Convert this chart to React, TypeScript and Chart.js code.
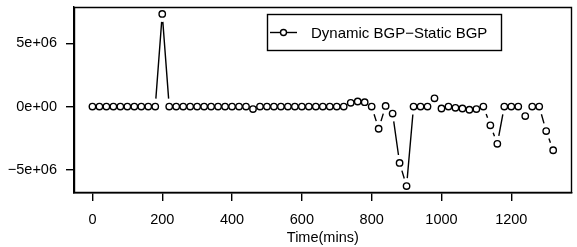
import React, { useEffect, useRef } from "react";
import { Chart, registerables } from "chart.js";

Chart.register(...registerables);

// ---- data ----
const times = [
  0, 20, 40, 60, 80, 100, 120, 140, 160, 180,
  200, 220, 240, 260, 280, 300, 320, 340, 360, 380,
  400, 420, 440, 460, 480, 500, 520, 540, 560, 580,
  600, 620, 640, 660, 680, 700, 720, 740, 760, 780,
  800, 820, 840, 860, 880, 900, 920, 940, 960, 980,
  1000, 1020, 1040, 1060, 1080, 1100, 1120, 1140, 1160, 1180,
  1200, 1220, 1240, 1260, 1280, 1300, 1320,
];
const diffValues = [
  0, 0, 0, 0, 0, 0, 0, 0, 0, 0,
  7320000, 0, 0, 0, 0, 0, 0, 0, 0, 0,
  0, 0, 0, -200000, 0, 0, 0, 0, 0, 0,
  0, 0, 0, 0, 0, 0, 0, 300000, 400000, 350000,
  0, -1750000, 50000, -550000, -4450000, -6280000, 0, 0, 0, 650000,
  -150000, 0, -100000, -150000, -250000, -200000, 0, -1480000, -2940000, 0,
  0, 0, -750000, 0, 0, -1930000, -3450000,
];
const xTickValues = [0, 200, 400, 600, 800, 1000, 1200];
const yTickValues = [-5000000, 0, 5000000];
const yTickLabels = ["\u22125e+06", "0e+00", "5e+06"];
const seriesLabel = "Dynamic BGP\u2212Static BGP";
const xTitle = "Time(mins)";

const FONT = "'Liberation Sans', Arial, Helvetica, sans-serif";
const FS = 14.5;
const LEG_FS = 15;
const LW = 1.4;

const gapLines = {
  id: "gapLines",
  afterDatasetsDraw(chart: any) {
    const pts = chart.getDatasetMeta(0).data;
    const ctx = chart.ctx;
    const gap = 8;
    ctx.save();
    ctx.strokeStyle = "#000";
    ctx.lineWidth = LW;
    ctx.beginPath();
    for (let i = 0; i < pts.length - 1; i++) {
      const a = pts[i];
      const b = pts[i + 1];
      const dx = b.x - a.x;
      const dy = b.y - a.y;
      const len = Math.hypot(dx, dy);
      if (len > 2 * gap) {
        const ux = dx / len;
        const uy = dy / len;
        ctx.moveTo(a.x + ux * gap, a.y + uy * gap);
        ctx.lineTo(b.x - ux * gap, b.y - uy * gap);
      }
    }
    ctx.stroke();
    ctx.restore();
  },
};

const boxAndLegend = {
  id: "boxAndLegend",
  afterDraw(chart: any) {
    const ctx = chart.ctx;
    const xs = chart.scales.x;
    const ys = chart.scales.y;
    const l = Math.round(xs.left) + 0.5;
    const r = Math.round(xs.right) - 0.5;
    const t = Math.round(ys.top) + 0.5;
    const b = Math.round(ys.bottom) - 0.5;
    ctx.save();
    ctx.strokeStyle = "#000";
    ctx.lineWidth = LW;
    ctx.beginPath();
    ctx.moveTo(l, t);
    ctx.lineTo(r, t);
    ctx.lineTo(r, b);
    ctx.lineTo(l, b);
    ctx.closePath();
    ctx.stroke();
    // legend
    const lx = 267.5, ly = 14.5, lw = 234, lh = 36;
    ctx.fillStyle = "#fff";
    ctx.fillRect(lx, ly, lw, lh);
    ctx.strokeRect(lx, ly, lw, lh);
    const cy = ly + lh / 2;
    ctx.beginPath();
    ctx.moveTo(270, cy);
    ctx.lineTo(297, cy);
    ctx.stroke();
    ctx.beginPath();
    ctx.arc(283.5, cy, 3, 0, Math.PI * 2);
    ctx.fillStyle = "#fff";
    ctx.fill();
    ctx.stroke();
    ctx.fillStyle = "#000";
    ctx.font = `${LEG_FS}px ${FONT}`;
    ctx.textBaseline = "middle";
    ctx.textAlign = "left";
    ctx.fillText(seriesLabel, 311, cy + 1);
    ctx.restore();
  },
};

export default function App() {
  const ref = useRef<HTMLCanvasElement | null>(null);
  useEffect(() => {
    document.body.style.margin = "0";
    Chart.defaults.font.family = FONT;
    Chart.defaults.color = "#000";
    const xMin = Math.min(...times), xMax = Math.max(...times);
    const yMin = Math.min(...diffValues), yMax = Math.max(...diffValues);
    const xPad = 0.04 * (xMax - xMin);
    const yPad = 0.04 * (yMax - yMin);
    const chart = new Chart(ref.current as HTMLCanvasElement, {
      type: "scatter",
      data: {
        datasets: [
          {
            label: seriesLabel,
            data: times.map((t, i) => ({ x: t, y: diffValues[i] })),
            showLine: false,
            pointStyle: "circle",
            pointRadius: 3.2,
            pointBorderWidth: LW,
            pointBorderColor: "#000",
            pointBackgroundColor: "rgba(0,0,0,0)",
          },
        ],
      },
      options: {
        responsive: false,
        animation: false,
        layout: { padding: { top: 7, right: 5, left: 0, bottom: 0 } },
        plugins: { legend: { display: false }, tooltip: { enabled: false } },
        scales: {
          x: {
            type: "linear",
            min: xMin - xPad,
            max: xMax + xPad,
            afterBuildTicks: (s: any) => {
              s.ticks = xTickValues.map((v) => ({ value: v }));
            },
            afterFit: (s: any) => {
              s.height = 54;
              s.paddingLeft = 0;
              s.paddingRight = 0;
              s.paddingTop = 0;
              s.paddingBottom = 0;
            },
            grid: { drawOnChartArea: false, drawTicks: true, tickLength: 8, color: "#000", lineWidth: LW },
            border: { display: true, color: "#000", width: LW },
            ticks: {
              color: "#000",
              font: { size: FS },
              padding: 10,
              maxRotation: 0,
              autoSkip: false,
              callback: (v: any) => String(v),
            },
            title: {
              display: true,
              text: xTitle,
              color: "#000",
              font: { size: FS },
              padding: { top: 0, bottom: 0 },
            },
          },
          y: {
            type: "linear",
            min: yMin - yPad,
            max: yMax + yPad,
            afterBuildTicks: (s: any) => {
              s.ticks = yTickValues.map((v) => ({ value: v }));
            },
            afterFit: (s: any) => {
              s.width = 74;
              s.paddingLeft = 0;
              s.paddingRight = 0;
              s.paddingTop = 0;
              s.paddingBottom = 0;
            },
            grid: { drawOnChartArea: false, drawTicks: true, tickLength: 8, color: "#000", lineWidth: LW },
            border: { display: true, color: "#000", width: LW },
            ticks: {
              color: "#000",
              font: { size: FS },
              padding: 9,
              autoSkip: false,
              callback: (v: any) => {
                const i = yTickValues.indexOf(Number(v));
                return i >= 0 ? yTickLabels[i] : "";
              },
            },
          },
        },
      },
      plugins: [gapLines, boxAndLegend],
    });
    return () => chart.destroy();
  }, []);
  return (
    <div style={{ position: "fixed", left: 0, top: 0, width: 577, height: 247, background: "#fff" }}>
      <canvas ref={ref} width={577} height={247} style={{ display: "block", width: 577, height: 247 }} />
    </div>
  );
}
